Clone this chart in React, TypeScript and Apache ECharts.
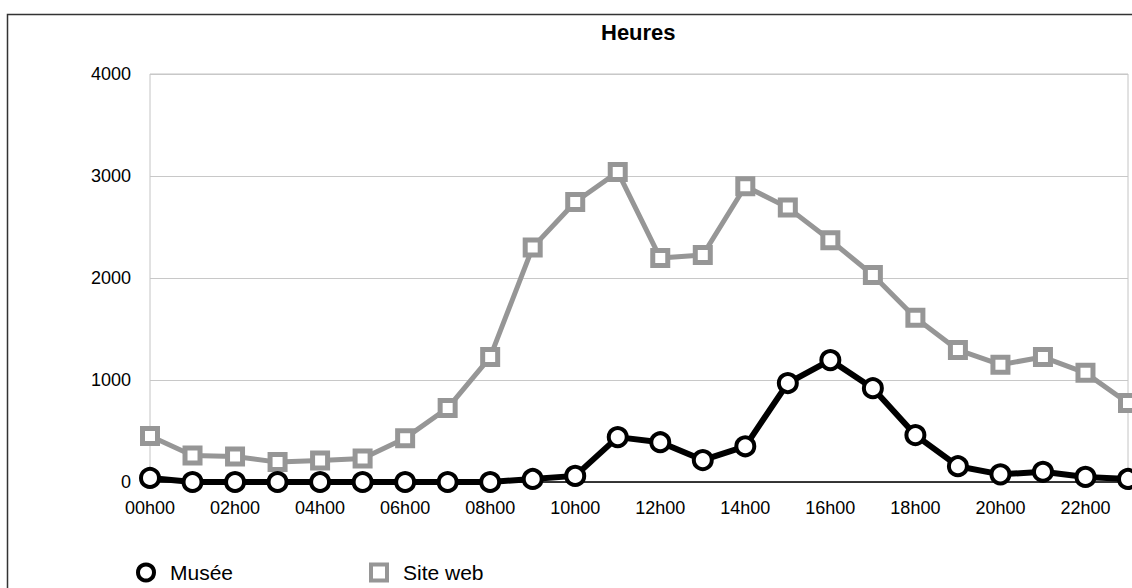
import React, { useEffect, useRef } from "react";
import * as echarts from "echarts";

const hours = [
  "00h00", "01h00", "02h00", "03h00", "04h00", "05h00", "06h00", "07h00",
  "08h00", "09h00", "10h00", "11h00", "12h00", "13h00", "14h00", "15h00",
  "16h00", "17h00", "18h00", "19h00", "20h00", "21h00", "22h00", "23h00",
];
const museeValues = [40, 0, 0, 0, 0, 0, 0, 0, 0, 30, 60, 440, 390, 215, 350, 970, 1195, 920, 460, 155, 75, 100, 50, 30];
const siteWebValues = [450, 260, 250, 195, 210, 230, 430, 725, 1225, 2300, 2745, 3040, 2195, 2225, 2900, 2690, 2370, 2030, 1610, 1295, 1150, 1225, 1070, 775];
const seriesNames = ["Musée", "Site web"];
const chartTitle = "Heures";

export default function App() {
  const ref = useRef<HTMLDivElement>(null);
  useEffect(() => {
    if (!ref.current) return;
    const chart = echarts.init(ref.current, undefined, { renderer: "svg" });
    const ff = "'Liberation Sans', Arial, sans-serif";
    const gray = "#969696";
    const legendText = { fontFamily: ff, fontSize: 21, lineHeight: 20, color: "#000", padding: [0, 0, 0, 11] };
    chart.setOption({
      animation: false,
      backgroundColor: "#ffffff",
      title: {
        text: chartTitle,
        left: 601,
        top: 21,
        padding: 0,
        textStyle: { fontFamily: ff, fontSize: 22, fontWeight: "bold", color: "#000" },
      },
      graphic: [
        {
          type: "rect",
          shape: { x: 7.5, y: 14.5, width: 1200, height: 700 },
          style: { fill: "none", stroke: "#333", lineWidth: 1.5 },
          silent: true,
          z: -10,
        },
      ],
      legend: [
        {
          data: [{ name: seriesNames[0], icon: "circle" }],
          left: 136,
          top: 562,
          padding: 0,
          itemWidth: 16,
          itemHeight: 16,
          itemStyle: { color: "#fff", borderColor: "#000", borderWidth: 4 },
          textStyle: legendText,
          selectedMode: false,
        },
        {
          data: [{ name: seriesNames[1], icon: "path://M0,0L10,0L10,10L0,10Z" }],
          left: 369,
          top: 562,
          padding: 0,
          itemWidth: 16,
          itemHeight: 16,
          itemStyle: { color: "#fff", borderColor: gray, borderWidth: 4 },
          textStyle: legendText,
          selectedMode: false,
        },
      ],
      grid: {
        left: 150,
        right: 4,
        top: 74,
        bottom: 106,
        show: true,
        borderColor: "#c4c4c4",
        borderWidth: 1,
        containLabel: false,
      },
      xAxis: {
        type: "category",
        data: hours,
        boundaryGap: false,
        axisLine: { show: true, lineStyle: { color: "#000", width: 1.5 } },
        axisTick: { show: false },
        axisLabel: {
          interval: 1,
          margin: 17,
          fontFamily: ff,
          fontSize: 18,
          color: "#000",
        },
        splitLine: { show: false },
      },
      yAxis: {
        type: "value",
        min: 0,
        max: 4000,
        interval: 1000,
        axisLine: { show: false },
        axisTick: { show: false },
        axisLabel: {
          margin: 19,
          fontFamily: ff,
          fontSize: 18,
          color: "#000",
          formatter: (v: number) => String(v),
        },
        splitLine: { show: true, lineStyle: { color: "#c8c8c8", width: 1 } },
      },
      series: [
        {
          name: seriesNames[1],
          type: "line",
          data: siteWebValues,
          symbol: "rect",
          symbolSize: 15,
          showAllSymbol: true,
          lineStyle: { color: gray, width: 5 },
          itemStyle: { color: "#fff", borderColor: gray, borderWidth: 5 },
          z: 2,
          clip: false,
        },
        {
          name: seriesNames[0],
          type: "line",
          data: museeValues,
          symbol: "circle",
          symbolSize: 18,
          showAllSymbol: true,
          lineStyle: { color: "#000", width: 6 },
          itemStyle: { color: "#fff", borderColor: "#000", borderWidth: 4 },
          z: 3,
          clip: false,
        },
      ],
    });
    return () => chart.dispose();
  }, []);
  return (
    <div
      ref={ref}
      style={{ position: "fixed", left: 0, top: 0, width: 1132, height: 588, background: "#fff" }}
    />
  );
}
